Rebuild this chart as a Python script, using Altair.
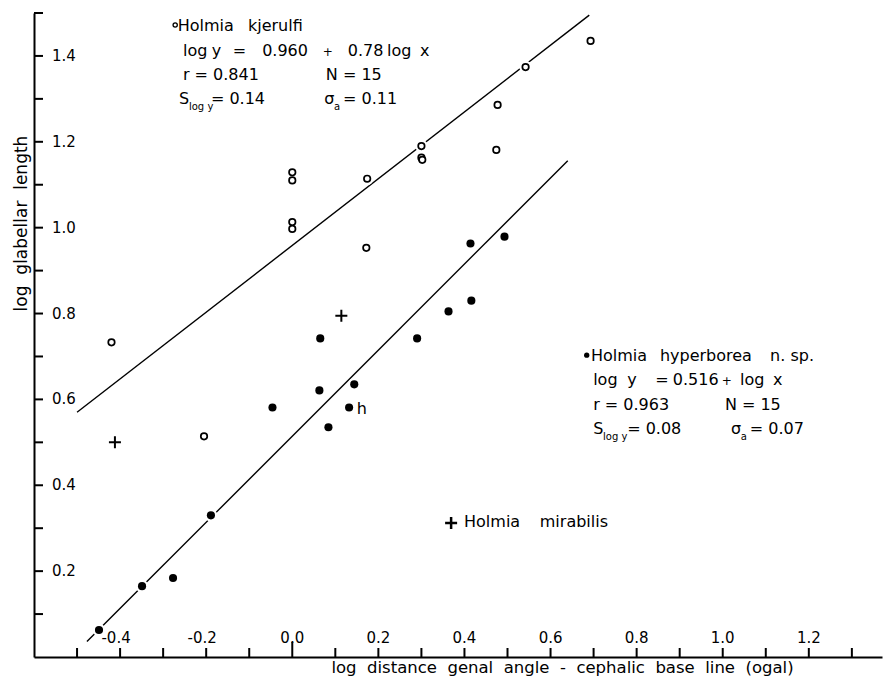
import altair as alt
import pandas as pd

FONT = "DejaVu Sans"

# ---------------- data ----------------
# Holmia kjerulfi (open circles)
kj_x = [-0.420, 0.000, 0.000, 0.000, 0.000, 0.174, 0.172, 0.300, 0.300, 0.302,
        0.477, 0.474, 0.542, 0.693, -0.205]
kj_y = [0.733, 1.129, 1.110, 1.013, 0.997, 1.114, 0.953, 1.190, 1.163, 1.158,
        1.286, 1.181, 1.374, 1.435, 0.514]

# Holmia hyperborea n. sp. (filled circles)
hb_x = [-0.449, -0.349, -0.277, -0.189, -0.046, 0.063, 0.065, 0.084, 0.132, 0.144,
        0.290, 0.363, 0.416, 0.414, 0.493]
hb_y = [0.063, 0.165, 0.184, 0.330, 0.581, 0.621, 0.742, 0.535, 0.581, 0.635,
        0.742, 0.805, 0.830, 0.963, 0.979]

# Holmia mirabilis (plus signs)
mi_x = [-0.412, 0.114]
mi_y = [0.500, 0.795]

# regression lines (end points)
kj_fit_x = [-0.500, 0.690]
kj_fit_y = [0.570, 1.495]
hb_fit_x = [-0.477, 0.640]
hb_fit_y = [0.036, 1.156]

# axes
x_ticks = [-0.5, -0.4, -0.3, -0.2, -0.1, 0.1, 0.2, 0.3, 0.4, 0.5, 0.6, 0.7,
           0.8, 0.9, 1.0, 1.1, 1.2, 1.3]
x_zero_tick = [0.0]
x_label_vals = [-0.4, -0.2, 0.0, 0.2, 0.4, 0.6, 0.8, 1.0, 1.2]
x_label_txt = ["-0.4", "-0.2", "0.0", "0.2", "0.4", "0.6", "0.8", "1.0", "1.2"]
y_ticks = [0.1, 0.2, 0.3, 0.4, 0.5, 0.6, 0.7, 0.8, 0.9, 1.0, 1.1, 1.2, 1.3, 1.4, 1.5]
y_label_vals = [0.2, 0.4, 0.6, 0.8, 1.0, 1.2, 1.4]
y_label_txt = ["0.2", "0.4", "0.6", "0.8", "1.0", "1.2", "1.4"]

# annotations (text, x, y in data units, font size)
ann_text = [
    "Holmia", "kjerulfi",
    "log", "y", "=", "0.960", "+", "0.78", "log", "x",
    "r = 0.841", "N = 15",
    "S", "log y", "= 0.14", "\u03c3", "a", "= 0.11",
    "Holmia", "hyperborea", "n. sp.",
    "log", "y", "=", "0.516", "+", "log", "x",
    "r = 0.963", "N = 15",
    "S", "log y", "= 0.08", "\u03c3", "a", "= 0.07",
    "Holmia", "mirabilis",
    "h",
]
ann_x = [
    -0.266, -0.103,
    -0.254, -0.187, -0.138, -0.070, 0.071, 0.129, 0.220, 0.297,
    -0.254, 0.078,
    -0.263, -0.240, -0.189, 0.074, 0.097, 0.118,
    0.694, 0.854, 1.110,
    0.699, 0.778, 0.843, 0.884, 0.998, 1.040, 1.117,
    0.699, 1.005,
    0.699, 0.722, 0.778, 1.019, 1.042, 1.063,
    0.399, 0.575,
    0.150,
]
ann_y = [
    1.458, 1.458,
    1.400, 1.400, 1.400, 1.400, 1.400, 1.400, 1.400, 1.400,
    1.344, 1.344,
    1.288, 1.275, 1.288, 1.288, 1.275, 1.288,
    0.689, 0.689, 0.689,
    0.634, 0.634, 0.634, 0.634, 0.634, 0.634, 0.634,
    0.575, 0.575,
    0.519, 0.506, 0.519, 0.519, 0.506, 0.519,
    0.303, 0.303,
    0.566,
]
ann_size = [
    16, 16,
    16, 16, 16, 16, 12, 16, 16, 16,
    16, 16,
    16, 10, 16, 16, 10, 16,
    16, 16, 16,
    16, 16, 16, 16, 12, 16, 16,
    16, 16,
    16, 10, 16, 16, 10, 16,
    16, 16,
    16,
]

# legend markers
leg_open_x, leg_open_y = [-0.272], [1.472]
leg_dot_x, leg_dot_y = [0.684], [0.703]
leg_plus_x, leg_plus_y = [0.369], [0.312]

# ---------------- chart ----------------
W, H = 848, 644
NB = "\u00a0\u00a0"

X = alt.X("x:Q",
          scale=alt.Scale(domain=[-0.6, 1.37], nice=False, zero=False),
          axis=alt.Axis(title=NB.join(["log", "distance", "genal", "angle", "-",
                                       "cephalic", "base", "line", "(ogal)"]),
                        ticks=False, labels=False, grid=False, domain=True,
                        domainColor="black", domainWidth=2,
                        titleFont=FONT, titleFontSize=16.5, titleFontWeight="normal",
                        titleColor="black", titleX=528, titleY=15,
                        titleAlign="center", titleBaseline="alphabetic"))
Y = alt.Y("y:Q",
          scale=alt.Scale(domain=[0, 1.5], nice=False, zero=False),
          axis=alt.Axis(title=NB.join(["log", "glabellar", "length"]),
                        ticks=False, labels=False, grid=False, domain=True,
                        domainColor="black", domainWidth=2,
                        titleFont=FONT, titleFontSize=17, titleFontWeight="normal",
                        titleColor="black", titleX=-13, titleY=210, titleAngle=270,
                        titleAlign="center", titleBaseline="middle"))

df_kj = pd.DataFrame({"x": kj_x, "y": kj_y})
df_hb = pd.DataFrame({"x": hb_x, "y": hb_y})
df_mi = pd.DataFrame({"x": mi_x, "y": mi_y})
df_kj_fit = pd.DataFrame({"x": kj_fit_x, "y": kj_fit_y})
df_hb_fit = pd.DataFrame({"x": hb_fit_x, "y": hb_fit_y})
df_halo = pd.concat([df_kj, df_hb], ignore_index=True)

kj_line = alt.Chart(df_kj_fit).mark_line(color="black", strokeWidth=1.4).encode(x=X, y=Y)
hb_line = alt.Chart(df_hb_fit).mark_line(color="black", strokeWidth=1.4).encode(x=X, y=Y)

halo = alt.Chart(df_halo).mark_circle(color="white", opacity=1, size=160).encode(x=X, y=Y)

kj_pts = alt.Chart(df_kj).mark_point(shape="circle", filled=True, fill="white",
                                      stroke="black", strokeWidth=1.7, size=42,
                                      opacity=1).encode(x=X, y=Y)
hb_pts = alt.Chart(df_hb).mark_circle(color="black", opacity=1, size=66).encode(x=X, y=Y)

PLUS = "M -1 0 L 1 0 M 0 -1 L 0 1"
mi_pts = alt.Chart(df_mi).mark_point(shape=PLUS, filled=False, stroke="black",
                                      strokeWidth=2, size=144, opacity=1).encode(x=X, y=Y)

# axis ticks (inward) and labels (inside)
x_tk = alt.Chart(pd.DataFrame({"x": x_ticks})).mark_rule(color="black", strokeWidth=2).encode(
    x=X, y=alt.value(H), y2=alt.value(H - 9))
x_tk0 = alt.Chart(pd.DataFrame({"x": x_zero_tick})).mark_rule(color="black", strokeWidth=2).encode(
    x=X, y=alt.value(H), y2=alt.value(H - 15))
df_xl = pd.DataFrame({"x": x_label_vals, "lab": x_label_txt})
x_lab_neg = alt.Chart(df_xl).transform_filter("datum.x < 0").mark_text(
    font=FONT, fontSize=15, color="black", align="center", baseline="alphabetic", dx=-4).encode(
    x=X, y=alt.value(H - 14), text="lab:N")
x_lab_pos = alt.Chart(df_xl).transform_filter("datum.x >= 0").mark_text(
    font=FONT, fontSize=15, color="black", align="center", baseline="alphabetic").encode(
    x=X, y=alt.value(H - 14), text="lab:N")

y_tk = alt.Chart(pd.DataFrame({"y": y_ticks})).mark_rule(color="black", strokeWidth=2).encode(
    y=Y, x=alt.value(0), x2=alt.value(9))
y_lab = alt.Chart(pd.DataFrame({"y": y_label_vals, "lab": y_label_txt})).mark_text(
    font=FONT, fontSize=15, color="black", align="left", baseline="middle").encode(
    y=Y, x=alt.value(18), text="lab:N")

# annotations
df_ann = pd.DataFrame({"x": ann_x, "y": ann_y, "t": ann_text, "fs": ann_size})
ann = alt.Chart(df_ann).mark_text(font=FONT, color="black", align="left",
                                  baseline="alphabetic").encode(
    x=X, y=Y, text="t:N", size=alt.Size("fs:Q", scale=None, legend=None))

leg_open = alt.Chart(pd.DataFrame({"x": leg_open_x, "y": leg_open_y})).mark_point(
    shape="circle", filled=False, stroke="black", strokeWidth=1.3, size=18, opacity=1).encode(x=X, y=Y)
leg_dot = alt.Chart(pd.DataFrame({"x": leg_dot_x, "y": leg_dot_y})).mark_circle(
    color="black", size=28, opacity=1).encode(x=X, y=Y)
leg_plus = alt.Chart(pd.DataFrame({"x": leg_plus_x, "y": leg_plus_y})).mark_point(
    shape=PLUS, filled=False, stroke="black", strokeWidth=2.5, size=144, opacity=1).encode(x=X, y=Y)

chart = alt.layer(
    kj_line, hb_line, halo, kj_pts, hb_pts, mi_pts,
    x_tk, x_tk0, x_lab_neg, x_lab_pos, y_tk, y_lab,
    ann, leg_open, leg_dot, leg_plus,
).properties(
    width=W, height=H,
    autosize=alt.AutoSizeParams(type="none"),
    padding={"left": 26, "top": 5, "right": 1, "bottom": 22},
    background="white",
).configure_view(stroke=None)

chart.save("out.html", embed_options={"renderer": "svg", "actions": False})
